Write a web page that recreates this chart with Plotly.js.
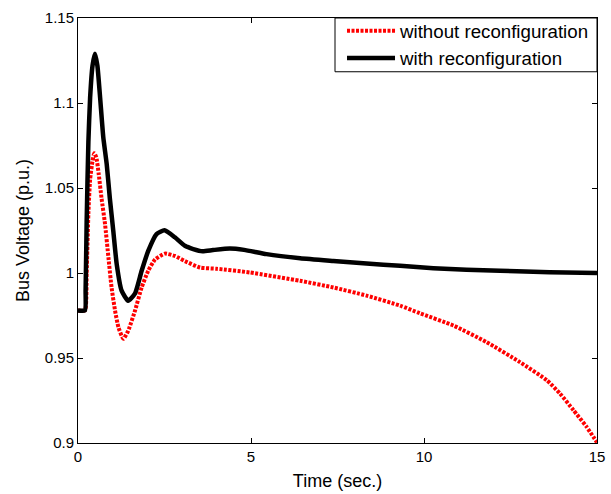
<!DOCTYPE html>
<html>
<head>
<meta charset="utf-8">
<script src="https://cdn.plot.ly/plotly-3.0.1.min.js"></script>
<style>html,body{margin:0;padding:0;background:#fff;}#chart{width:611px;height:494px;}</style>
</head>
<body>
<div id="chart"></div>
<script>
// Time (s) and bus voltage (p.u.) — with reconfiguration
const tWith = [0, 0.2, 0.22, 0.25, 0.3, 0.35, 0.42, 0.49, 0.56, 0.64, 0.73, 0.83, 0.92, 1.02, 1.12, 1.26, 1.45, 1.65, 1.84, 2.03, 2.27, 2.5, 2.8, 3.09, 3.33, 3.6, 3.9, 4.39, 4.8, 5.45, 6.42, 7.38, 8.34, 9.31, 10.27, 11.23, 12.2, 13.16, 14.1, 15.0];
const vWith = [0.978, 0.978, 0.99, 1.03, 1.077, 1.103, 1.122, 1.129, 1.122, 1.103, 1.080, 1.064, 1.044, 1.0247, 1.005, 0.9896, 0.9837, 0.988, 1.0013, 1.013, 1.0229, 1.0251, 1.021, 1.016, 1.0141, 1.0128, 1.0135, 1.0144, 1.0136, 1.0111, 1.0087, 1.0071, 1.0056, 1.0042, 1.0028, 1.0019, 1.0013, 1.0007, 1.0003, 1.0];

// Time (s) and bus voltage (p.u.) — without reconfiguration
const tWithout = [0, 0.2, 0.25, 0.3, 0.35, 0.42, 0.47, 0.53, 0.6, 0.68, 0.78, 0.88, 0.97, 1.07, 1.17, 1.31, 1.45, 1.65, 1.84, 2.03, 2.23, 2.51, 2.8, 3.09, 3.53, 4.0, 4.97, 6.42, 7.38, 8.34, 9.31, 9.88, 10.85, 11.81, 12.77, 13.55, 13.93, 14.32, 14.7, 15.0];
const vWithout = [0.978, 0.978, 1.0, 1.035, 1.055, 1.066, 1.0705, 1.068, 1.058, 1.044, 1.029, 1.009, 0.9915, 0.978, 0.968, 0.9613, 0.966, 0.978, 0.9915, 1.0013, 1.008, 1.0114, 1.010, 1.007, 1.0032, 1.0025, 1.0003, 0.9954, 0.9915, 0.9867, 0.9808, 0.9763, 0.9691, 0.9593, 0.9476, 0.9369, 0.9291, 0.9193, 0.9095, 0.9003];

const xTicks = [0, 5, 10, 15];
const yTicks = [0.9, 0.95, 1, 1.05, 1.1, 1.15];
const yTickText = ['0.9', '0.95', '1', '1.05', '1.1', '1.15'];

const FONT = 'Liberation Sans, Arial, Helvetica, sans-serif';

const traces = [
  {
    x: tWithout, y: vWithout, type: 'scatter', mode: 'lines',
    name: 'without reconfiguration',
    line: {color: '#ff0000', width: 4, dash: '3px,1.5px', shape: 'spline', smoothing: 0.5}
  },
  {
    x: tWith, y: vWith, type: 'scatter', mode: 'lines',
    name: 'with reconfiguration',
    line: {color: '#000000', width: 4.5, shape: 'spline', smoothing: 0.5}
  }
];

const axisCommon = {
  showgrid: false, zeroline: false, showline: true, linecolor: '#000', linewidth: 1,
  mirror: 'ticks', ticks: 'inside', ticklen: 5, tickcolor: '#000', tickwidth: 1,
  tickfont: {family: FONT, size: 15, color: '#000'}
};

const layout = {
  width: 611, height: 494,
  margin: {l: 78, r: 14, t: 16, b: 51},
  paper_bgcolor: '#fff', plot_bgcolor: '#fff',
  showlegend: true,
  legend: {
    x: 0.5087, y: 1.014, xanchor: 'left', yanchor: 'top',
    bgcolor: 'rgba(0,0,0,0)', borderwidth: 0,
    font: {family: FONT, size: 18.7, color: '#000'},
    itemwidth: 48, tracegroupgap: 0
  },
  shapes: [{
    type: 'rect', xref: 'paper', yref: 'paper',
    x0: 0.4952, x1: 1, y0: 0.8735, y1: 1,
    line: {color: '#000', width: 1}, fillcolor: '#fff', layer: 'above'
  }],
  xaxis: Object.assign({}, axisCommon, {
    range: [0, 15], tickvals: xTicks, ticktext: xTicks.map(String),
    title: {text: 'Time (sec.)', font: {family: FONT, size: 18, color: '#000'}, standoff: 10}
  }),
  yaxis: Object.assign({}, axisCommon, {
    range: [0.9, 1.15], tickvals: yTicks, ticktext: yTickText,
    title: {text: 'Bus Voltage (p.u.)', font: {family: FONT, size: 18, color: '#000'}, standoff: 10}
  })
};

Plotly.newPlot('chart', traces, layout, {displayModeBar: false, staticPlot: true});
</script>
</body>
</html>
